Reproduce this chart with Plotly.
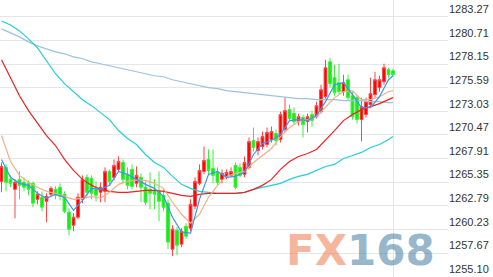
import plotly.graph_objects as go

# ---- candle data (index, open, high, low, close) ----
opens = [1265.44, 1266.96, 1265.66, 1264.58, 1265.66, 1265.34, 1265.23, 1265.23, 1263.50, 1263.72,
         1263.28, 1264.04, 1264.58, 1264.80, 1264.04, 1262.10, 1260.69, 1261.56, 1263.50, 1265.88,
         1265.77, 1264.58, 1264.26, 1264.36, 1266.52, 1265.88, 1266.74, 1267.50, 1266.20, 1266.74,
         1265.23, 1265.88, 1264.80, 1264.58, 1264.47, 1264.36, 1263.93, 1263.07, 1258.10, 1260.15,
         1258.64, 1260.58, 1260.37, 1262.74, 1265.23, 1266.52, 1267.82, 1266.85, 1266.42, 1265.66,
         1265.98, 1266.09, 1267.17, 1266.96, 1266.20, 1266.96, 1269.87, 1268.79, 1269.22, 1269.44,
         1269.98, 1270.63, 1269.98, 1271.06, 1273.22, 1272.79, 1271.92, 1272.36, 1271.92, 1272.68,
         1272.46, 1273.00, 1274.62, 1278.40, 1276.68, 1276.14, 1275.16, 1276.46, 1274.73, 1274.52,
         1272.14, 1272.68, 1273.76, 1274.84, 1275.60, 1276.24, 1277.54, 1277.43]
highs = [1267.50, 1267.28, 1266.09, 1265.66, 1266.52, 1265.88, 1265.55, 1265.44, 1264.36, 1264.36,
         1264.15, 1264.90, 1264.90, 1265.23, 1264.36, 1262.53, 1261.99, 1264.15, 1266.09, 1266.20,
         1266.09, 1265.44, 1265.34, 1266.96, 1266.74, 1267.82, 1268.14, 1267.82, 1266.96, 1267.28,
         1267.06, 1266.31, 1265.44, 1266.42, 1265.66, 1266.52, 1264.58, 1263.50, 1260.69, 1260.48,
         1260.37, 1260.91, 1263.50, 1265.88, 1267.28, 1269.22, 1268.90, 1268.90, 1266.96, 1266.74,
         1266.74, 1266.96, 1267.50, 1267.39, 1268.14, 1270.20, 1271.28, 1270.20, 1270.84, 1271.28,
         1271.38, 1271.06, 1273.00, 1274.52, 1273.76, 1273.44, 1272.79, 1272.68, 1272.79, 1273.11,
         1274.08, 1275.92, 1278.62, 1278.84, 1278.08, 1278.19, 1277.00, 1277.00, 1275.16, 1274.84,
         1274.52, 1274.52, 1276.68, 1277.32, 1276.89, 1278.19, 1277.76, 1277.65]
lows = [1264.26, 1264.36, 1264.80, 1261.45, 1263.50, 1264.36, 1263.93, 1262.64, 1262.96, 1262.20,
        1261.02, 1263.72, 1263.50, 1263.39, 1261.99, 1259.61, 1260.04, 1261.34, 1263.07, 1263.82,
        1263.50, 1263.28, 1263.18, 1263.18, 1265.01, 1265.55, 1266.42, 1265.23, 1264.58, 1264.58,
        1264.80, 1263.18, 1262.85, 1262.42, 1262.42, 1261.12, 1262.20, 1258.10, 1257.34, 1257.45,
        1258.32, 1259.18, 1260.04, 1262.42, 1265.01, 1266.20, 1266.09, 1265.23, 1265.01, 1265.23,
        1265.66, 1265.88, 1264.58, 1265.88, 1265.88, 1266.74, 1268.68, 1268.25, 1268.90, 1269.12,
        1269.66, 1269.33, 1269.66, 1270.74, 1271.92, 1271.60, 1271.49, 1270.20, 1270.74, 1271.38,
        1272.25, 1272.79, 1274.41, 1275.60, 1274.73, 1274.84, 1274.73, 1274.30, 1272.14, 1271.71,
        1269.76, 1272.36, 1273.44, 1274.52, 1275.16, 1275.92, 1276.68, 1276.78]
closes = [1267.06, 1265.34, 1265.23, 1265.34, 1265.01, 1264.80, 1264.58, 1263.07, 1264.04, 1262.64,
          1263.82, 1264.69, 1263.93, 1263.82, 1262.20, 1260.26, 1261.56, 1263.72, 1265.66, 1264.26,
          1264.15, 1263.93, 1264.80, 1266.52, 1265.44, 1267.17, 1267.60, 1265.66, 1265.01, 1264.90,
          1266.09, 1264.80, 1263.18, 1264.15, 1264.04, 1263.28, 1262.64, 1258.86, 1260.26, 1258.53,
          1260.04, 1259.50, 1262.96, 1265.44, 1266.63, 1267.71, 1266.63, 1266.09, 1265.34, 1266.31,
          1266.42, 1266.52, 1264.80, 1266.09, 1267.50, 1269.76, 1269.12, 1269.76, 1270.30, 1270.74,
          1270.84, 1269.87, 1272.68, 1273.11, 1272.25, 1271.92, 1272.46, 1271.60, 1272.46, 1272.03,
          1273.65, 1275.38, 1277.76, 1276.03, 1275.06, 1275.16, 1276.14, 1274.52, 1272.46, 1272.14,
          1273.54, 1274.08, 1274.95, 1276.46, 1276.46, 1277.76, 1277.00, 1277.00]
candle_idx = list(range(len(closes)))

# ---- moving averages, sampled at every 2nd candle plus the last ----
ma_idx = list(range(0, 88, 2)) + [87]
ma_short = [1267.82, 1265.88, 1265.23, 1265.01, 1264.15, 1263.61, 1264.04, 1263.72, 1262.31, 1263.39,
            1264.69, 1264.58, 1265.01, 1266.52, 1266.20, 1265.66, 1265.12, 1264.69, 1263.82, 1261.56,
            1259.94, 1259.83, 1263.50, 1266.20, 1266.52, 1265.88, 1265.98, 1266.42, 1268.36, 1269.55,
            1269.87, 1270.52, 1272.03, 1272.14, 1272.03, 1272.57, 1274.08, 1275.92, 1276.14, 1274.84,
            1273.44, 1273.44, 1274.62, 1276.46, 1276.89]
ma_tan = [1270.41, 1267.60, 1266.09, 1265.34, 1264.80, 1264.36, 1264.15, 1263.82, 1263.50, 1263.61,
          1263.82, 1263.61, 1264.26, 1265.12, 1265.44, 1265.55, 1265.55, 1265.23, 1264.69, 1263.18,
          1261.88, 1260.91, 1261.88, 1263.72, 1265.01, 1265.98, 1266.31, 1266.52, 1267.50, 1268.25,
          1269.01, 1270.30, 1271.28, 1271.92, 1272.14, 1272.46, 1273.44, 1274.52, 1275.16, 1275.27,
          1274.30, 1274.30, 1274.62, 1275.16, 1275.27]
ma_red = [1278.62, 1276.68, 1274.73, 1273.11, 1271.71, 1270.41, 1269.33, 1267.82, 1266.63, 1265.66,
          1265.01, 1264.58, 1264.36, 1264.26, 1264.26, 1264.36, 1264.47, 1264.47, 1264.36, 1264.15,
          1263.93, 1263.82, 1264.04, 1264.15, 1264.15, 1264.15, 1264.15, 1264.26, 1264.58, 1265.01,
          1265.66, 1266.74, 1267.60, 1268.14, 1268.47, 1268.90, 1269.87, 1270.95, 1272.03, 1272.68,
          1273.22, 1273.54, 1273.87, 1274.30, 1274.52]
ma_cyan = [1282.83, 1282.40, 1281.75, 1280.89, 1279.92, 1278.51, 1277.11, 1276.03, 1275.16, 1274.30,
           1273.65, 1272.90, 1272.14, 1270.95, 1270.09, 1269.44, 1268.36, 1267.50, 1266.96, 1265.98,
           1265.12, 1264.69, 1264.36, 1264.26, 1264.15, 1264.15, 1264.15, 1264.26, 1264.58, 1264.80,
           1265.01, 1265.23, 1265.66, 1265.98, 1266.20, 1266.63, 1267.06, 1267.28, 1267.93, 1268.25,
           1268.58, 1269.12, 1269.44, 1269.98, 1270.30]
ma_long = [1281.97, 1281.54, 1281.10, 1280.56, 1280.13, 1279.81, 1279.48, 1279.27, 1278.94, 1278.73,
           1278.40, 1278.19, 1277.97, 1277.76, 1277.54, 1277.32, 1277.11, 1276.89, 1276.78, 1276.46,
           1276.24, 1276.03, 1275.81, 1275.60, 1275.49, 1275.27, 1275.16, 1275.06, 1274.95, 1274.84,
           1274.73, 1274.62, 1274.52, 1274.41, 1274.41, 1274.30, 1274.30, 1274.30, 1274.19, 1274.19,
           1274.19, 1274.08, 1274.08, 1273.98, 1273.98]

tick_labels = ["1255.10", "1257.67", "1260.23", "1262.79", "1265.35", "1267.91",
               "1270.47", "1273.03", "1275.59", "1278.15", "1280.71", "1283.27"]
tick_values = [float(t) for t in tick_labels]

fig = go.Figure()

fig.add_trace(go.Candlestick(
    x=candle_idx, open=opens, high=highs, low=lows, close=closes,
    increasing=dict(line=dict(color="#ff4545", width=1), fillcolor="#ff0000"),
    decreasing=dict(line=dict(color="#3bee3b", width=1), fillcolor="#11ee11"),
    whiskerwidth=0,
))

for vals, col in [(ma_long, "#9dc1e0"), (ma_cyan, "#22cfd6"), (ma_red, "#ee2222"),
                  (ma_tan, "#eeb088"), (ma_short, "#3d95f0")]:
    fig.add_trace(go.Scatter(x=ma_idx, y=vals, mode="lines",
                             line=dict(color=col, width=1.2), hoverinfo="skip"))

fig.add_annotation(
    text="<b><span style='color:rgba(236,110,60,0.5)'>FX</span>"
         "<span style='color:rgba(60,120,160,0.55)'>168</span></b>",
    xref="paper", yref="paper", x=0.975, y=0.0, xanchor="right", yanchor="bottom",
    showarrow=False, font=dict(family="DejaVu Sans", size=42),
)

fig.update_layout(
    width=493, height=277,
    margin=dict(l=0, r=45, t=0, b=0),
    paper_bgcolor="white", plot_bgcolor="white",
    showlegend=False,
    boxgap=0.1,
    xaxis=dict(range=[-0.333, 99.22], rangeslider=dict(visible=False),
               tickvals=[87], showticklabels=False, showgrid=True,
               gridcolor="#e6e6e6", gridwidth=1, zeroline=False, showline=False),
    yaxis=dict(range=[1255.08, 1285.10], side="right", tickvals=tick_values,
               ticktext=tick_labels, ticklabelposition="outside top",
               showgrid=True, gridcolor="#e6e6e6", gridwidth=1, zeroline=False,
               tickfont=dict(family="Liberation Sans", size=11, color="#333333"),
               ticks="", showline=False),
)

fig.write_html("out.html")
